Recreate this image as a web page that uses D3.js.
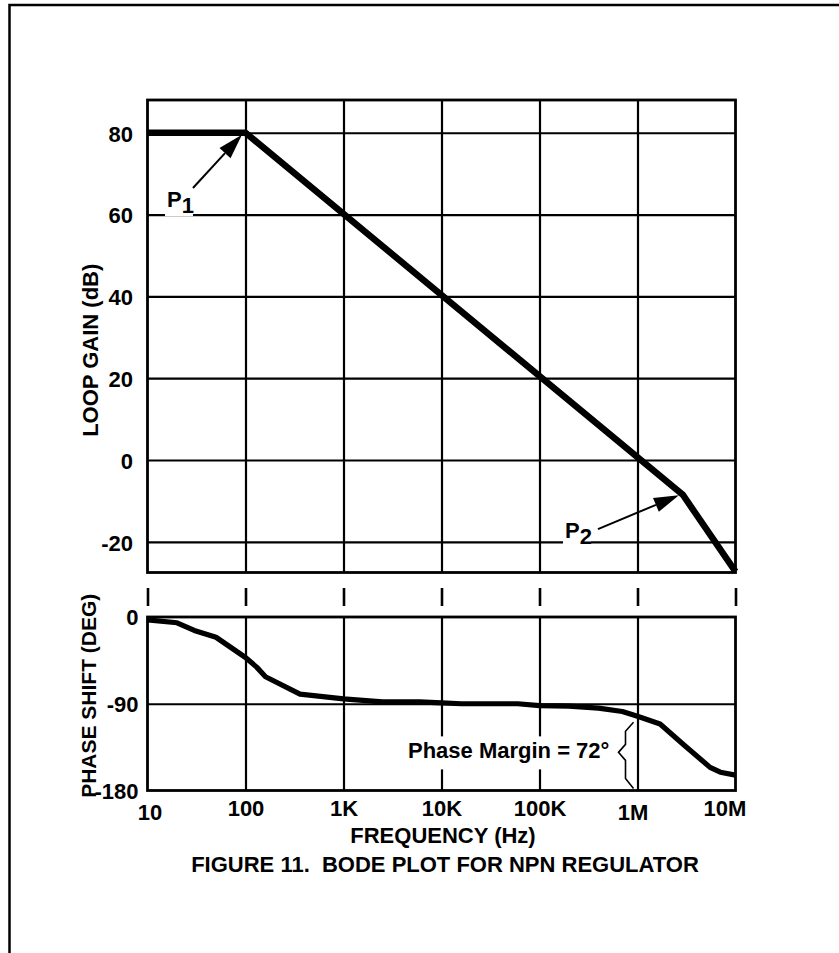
<!DOCTYPE html>
<html>
<head>
<meta charset="utf-8">
<script src="https://cdn.jsdelivr.net/npm/d3@7"></script>
<style>
  html, body { margin: 0; padding: 0; background: #fff; }
  svg { display: block; }
  text { font-family: "Liberation Sans", Arial, Helvetica, sans-serif; font-weight: bold; fill: #000; }
</style>
</head>
<body>
<svg id="chart" width="839" height="953"></svg>
<script>
// ---------------- data ----------------
const decades = [10, 100, 1e3, 1e4, 1e5, 1e6, 1e7];
const xTickLabels = ["10", "100", "1K", "10K", "100K", "1M", "10M"];
const gainTicks = [80, 60, 40, 20, 0, -20];
const phaseTicks = [0, -90, -180];

// asymptotic loop gain (dB)
const gainFreq = [10, 100, 2.9e6, 1e7];
const gainDb   = [80, 80, -8.5, -27.3];

// phase shift (deg)
const phaseFreq = [10, 20, 30, 50, 100, 130, 160, 360, 1000, 2500, 6000, 1e4, 1.6e4, 6e4, 1e5, 2e5, 4e5, 7e5, 1e6, 1.7e6, 3e6, 5.5e6, 7e6, 1e7];
const phaseDeg  = [-3, -6, -14, -21, -42, -52, -62, -80, -85, -88, -88, -89, -90, -90, -92, -92.5, -94.5, -98, -103, -111, -133, -156, -161, -164];

// annotations (data coordinates)
const annLabels = ["P", "P"];
const annSubs   = ["1", "2"];
const annLabelFreq = [15.8, 1.82e5];
const annLabelDb   = [61.8, -19.1];
const annTailFreq  = [29.1, 3.95e5];
const annTailDb    = [66.5, -16.9];
const annTipFreq   = [92, 2.65e6];
const annTipDb     = [79.5, -8.6];

const marginText = "Phase Margin = 72°";
const marginFreq = 1e6;        // crossover frequency
const marginDegTop = -104;     // phase at crossover
const marginDegBottom = -180;

const yTitleGain = "LOOP GAIN (dB)";
const yTitlePhase = "PHASE SHIFT (DEG)";
const xTitle = "FREQUENCY (Hz)";
const caption = "FIGURE 11.  BODE PLOT FOR NPN REGULATOR";

// ---------------- layout ----------------
const svg = d3.select("#chart");
const x  = d3.scaleLog().domain([10, 1e7]).range([147.5, 735.5]);
const yG = d3.scaleLinear().domain([-27.5, 88]).range([572.5, 100]);
const yP = d3.scaleLinear().domain([-180, 0]).range([790.5, 617]);
const FS = 22;

// page frame
svg.append("path")
  .attr("d", "M9.5,953 L9.5,5 L839,5")
  .attr("fill", "none").attr("stroke", "#000").attr("stroke-width", 2.5);

const [x0, x1] = x.range();
const gTop = yG.range()[1], gBot = yG.range()[0];
const pTop = yP.range()[1], pBot = yP.range()[0];

function cleanAxis(g) { g.select(".domain").remove(); }
const GW = 2.2;
const hyphen = d => String(d).replace("\u2212", "-");

// gain horizontal grid
svg.append("g").attr("transform", `translate(${x0},0)`)
  .call(d3.axisLeft(yG).tickValues(gainTicks).tickSize(-(x1 - x0)).tickFormat(""))
  .call(cleanAxis)
  .call(g => g.selectAll("line").attr("stroke", "#000").attr("stroke-width", GW));
// gain vertical grid
svg.append("g").attr("transform", `translate(0,${gBot})`)
  .call(d3.axisBottom(x).tickValues(decades.slice(1, -1)).tickSize(-(gBot - gTop)).tickFormat(""))
  .call(cleanAxis)
  .call(g => g.selectAll("line").attr("stroke", "#000").attr("stroke-width", GW));
// phase horizontal grid
svg.append("g").attr("transform", `translate(${x0},0)`)
  .call(d3.axisLeft(yP).tickValues(phaseTicks.slice(1, -1)).tickSize(-(x1 - x0)).tickFormat(""))
  .call(cleanAxis)
  .call(g => g.selectAll("line").attr("stroke", "#000").attr("stroke-width", GW));
// phase vertical grid
svg.append("g").attr("transform", `translate(0,${pBot})`)
  .call(d3.axisBottom(x).tickValues(decades.slice(1, -1)).tickSize(-(pBot - pTop)).tickFormat(""))
  .call(cleanAxis)
  .call(g => g.selectAll("line").attr("stroke", "#000").attr("stroke-width", GW));

// tick marks between the two plots
svg.append("g").attr("transform", `translate(0,606)`)
  .call(d3.axisBottom(x).tickValues(decades).tickSize(-18).tickFormat(""))
  .call(cleanAxis)
  .call(g => g.selectAll("line").attr("stroke", "#000").attr("stroke-width", 2.6));

// borders
svg.append("rect").attr("x", x0).attr("y", gTop).attr("width", x1 - x0).attr("height", gBot - gTop)
  .attr("fill", "none").attr("stroke", "#000").attr("stroke-width", 2.8);
svg.append("rect").attr("x", x0).attr("y", pTop).attr("width", x1 - x0).attr("height", pBot - pTop)
  .attr("fill", "none").attr("stroke", "#000").attr("stroke-width", 2.8);

// ---- tick labels ----
const styleText = sel => sel.attr("font-size", FS)
  .style("font-family", "'Liberation Sans', Arial, sans-serif").style("font-weight", "bold");

svg.append("g").attr("transform", `translate(${x0},0)`)
  .call(d3.axisLeft(yG).tickValues(gainTicks).tickSize(0).tickPadding(14.5).tickFormat(hyphen))
  .call(cleanAxis)
  .call(g => g.selectAll("text").call(styleText).attr("dy", "0.38em"));

svg.append("g").attr("transform", `translate(${x0},0)`)
  .call(d3.axisLeft(yP).tickValues(phaseTicks).tickSize(0).tickPadding(9).tickFormat(hyphen))
  .call(cleanAxis)
  .call(g => g.selectAll("text").call(styleText).attr("dy", "0.36em"));

const nudge = { "10": [2, 4], "1M": [-5, 4], "10M": [-11, 0] };
svg.append("g").attr("transform", `translate(0,${pBot})`)
  .call(d3.axisBottom(x).tickValues(decades).tickSize(0).tickPadding(0)
    .tickFormat((d, i) => xTickLabels[i]))
  .call(cleanAxis)
  .call(g => g.selectAll("text").call(styleText)
    .attr("y", 25).attr("dy", 0)
    .attr("transform", function () {
      const t = d3.select(this).text();
      const n = nudge[t] || [0, 0];
      return `translate(${n[0]},${n[1]})`;
    }));

// ---- axis titles ----
svg.append("text").attr("transform", `translate(98,${(gTop + gBot) / 2 + 14}) rotate(-90)`)
  .attr("text-anchor", "middle").attr("font-size", FS).text(yTitleGain);
svg.append("text").attr("transform", `translate(96,${(pTop + pBot) / 2 - 8}) rotate(-90)`)
  .attr("text-anchor", "middle").attr("font-size", 21).text(yTitlePhase);
svg.append("text").attr("x", 443).attr("y", 843).attr("text-anchor", "middle")
  .attr("font-size", FS).text(xTitle);
svg.append("text").attr("x", 445).attr("y", 871.5).attr("text-anchor", "middle")
  .attr("font-size", FS).style("white-space", "pre").text(caption);

// ---- data lines ----
const gainPts = gainFreq.map((f, i) => [f, gainDb[i]]);
svg.append("path").datum(gainPts)
  .attr("d", d3.line().x(d => x(d[0])).y(d => yG(d[1])))
  .attr("fill", "none").attr("stroke", "#000").attr("stroke-width", 6.5)
  .attr("stroke-linejoin", "miter");

const phasePts = phaseFreq.map((f, i) => [f, phaseDeg[i]]);
svg.append("path").datum(phasePts)
  .attr("d", d3.line().x(d => x(d[0])).y(d => yP(d[1])))
  .attr("fill", "none").attr("stroke", "#000").attr("stroke-width", 5.2)
  .attr("stroke-linejoin", "round");

// ---- P1 / P2 annotations ----
annLabels.forEach((lab, i) => {
  const lx = x(annLabelFreq[i]), ly = yG(annLabelDb[i]);
  svg.append("rect").attr("x", lx - 2).attr("y", ly - 17).attr("width", 28).attr("height", 26)
    .attr("fill", "#fff");
  const t = svg.append("text").attr("x", lx).attr("y", ly).attr("font-size", FS);
  t.append("tspan").text(lab);
  t.append("tspan").attr("dy", 6).text(annSubs[i]);

  const tx = x(annTailFreq[i]), ty = yG(annTailDb[i]);
  const hx = x(annTipFreq[i]), hy = yG(annTipDb[i]);
  const ang = Math.atan2(hy - ty, hx - tx);
  const L = 25, W = 7.5;
  const bx = hx - L * Math.cos(ang), by = hy - L * Math.sin(ang);
  svg.append("line").attr("x1", tx).attr("y1", ty).attr("x2", bx).attr("y2", by)
    .attr("stroke", "#000").attr("stroke-width", 2);
  const px = -Math.sin(ang), py = Math.cos(ang);
  svg.append("path")
    .attr("d", `M${hx},${hy} L${bx + px * W},${by + py * W} L${bx - px * W},${by - py * W} Z`)
    .attr("fill", "#000");
});

// ---- phase margin annotation ----
const bxm = x(marginFreq) - 4;
const yt = yP(marginDegTop) + 5, yb = yP(marginDegBottom) - 2;
const ym = (yt + yb) / 2 - 3;
svg.append("rect").attr("x", 404).attr("y", ym - 16).attr("width", 208).attr("height", 33).attr("fill", "#fff");
svg.append("text").attr("x", 408).attr("y", ym + 5.5).attr("font-size", FS).text(marginText);
svg.append("path")
  .attr("d", `M${bxm},${yt} L${bxm - 8},${yt + 9} L${bxm - 8},${ym - 8} L${bxm - 15},${ym} L${bxm - 8},${ym + 8} L${bxm - 8},${yb - 10} L${bxm},${yb}`)
  .attr("fill", "none").attr("stroke", "#000").attr("stroke-width", 1.6);
</script>
</body>
</html>
